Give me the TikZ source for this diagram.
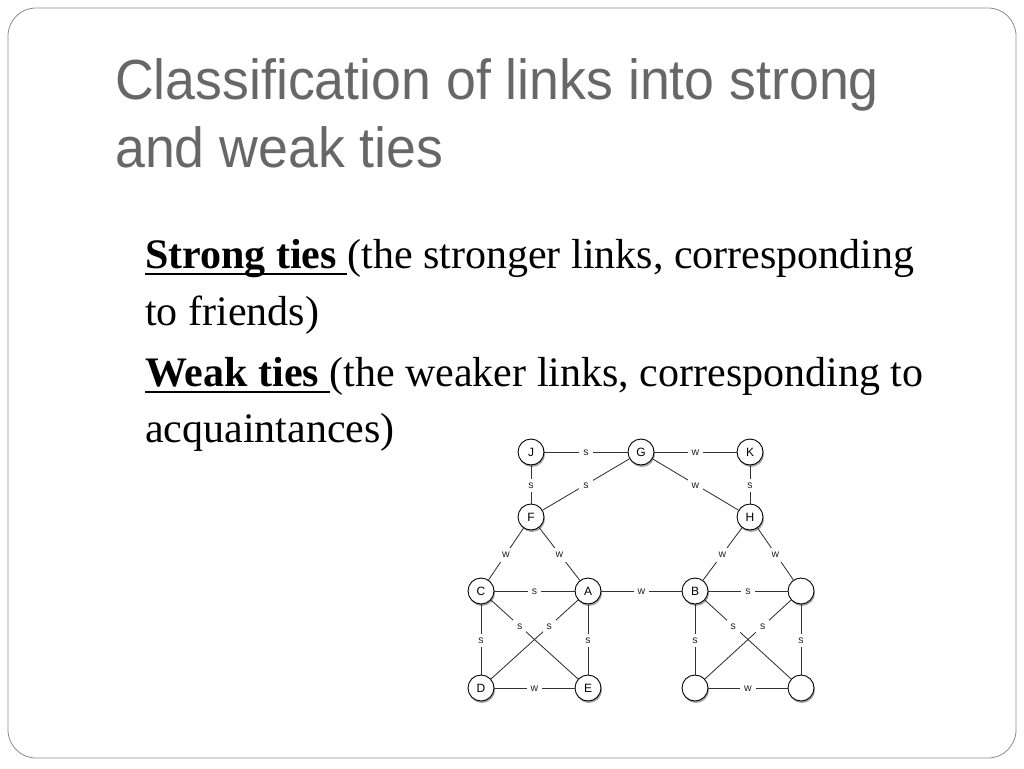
\documentclass[tikz,border=0pt]{standalone}
\usepackage{fontspec}
\setmainfont{Liberation Serif}
\newfontfamily\titlefont[FakeStretch=0.95]{Liberation Sans}
\newfontfamily\graphfont{Liberation Sans}
\usetikzlibrary{shadows}
\definecolor{titlegray}{HTML}{676767}
\definecolor{framegray}{HTML}{8A8A8A}
\newcommand\ulbox[1]{\setbox0\hbox{#1}\rlap{\rule[-6.5pt]{\wd0}{1.6pt}}\box0}
\tikzset{
  vtx/.style={circle, draw=black, line width=0.9pt, fill=white, minimum size=26pt, inner sep=0pt,
    font=\graphfont\fontsize{12}{12}\selectfont,
    drop shadow={shadow xshift=1pt, shadow yshift=-2pt, opacity=0.35, fill=black}},
  lnk/.style={draw=black!80, line width=0.85pt},
  lbl/.style={fill=white, inner sep=4pt, text height=5.5pt, text depth=0pt, yshift=-0.8pt,
    font=\graphfont\fontsize{10.5}{10.5}\selectfont, text=black!85},
  titletext/.style={anchor=base west, inner sep=0pt, text=titlegray, font=\titlefont\fontsize{56.5}{56.5}\selectfont},
  bodytext/.style={anchor=base west, inner sep=0pt, font=\fontsize{42}{42}\selectfont}
}
\begin{document}
\begin{tikzpicture}[x=1pt,y=-1pt]
\useasboundingbox (0,0) rectangle (1024,768);
\draw[framegray, line width=0.8pt, rounded corners=28pt] (8,8) rectangle (1016,758);
\node[titletext] (t1) at (115,99) {Classification of links into strong};
\node[titletext] (t2) at (115,167) {and weak ties};
\node[bodytext] (b1) at (145,268) {\ulbox{\textbf{Strong ties }}(the stronger links, corresponding};
\node[bodytext] (b2) at (145,325) {to friends)};
\node[bodytext] (b3) at (145,386) {\ulbox{\textbf{Weak ties }}(the weaker links, corresponding to};
\node[bodytext] (b4) at (145,442) {acquaintances)};
% vertices
\node[vtx] (J) at (531,452) {J};
\node[vtx] (G) at (641,452) {G};
\node[vtx] (K) at (750,452) {K};
\node[vtx] (F) at (531,517) {F};
\node[vtx] (H) at (750,517) {H};
\node[vtx] (C) at (481,591) {C};
\node[vtx] (A) at (588,591) {A};
\node[vtx] (B) at (695,591) {B};
\node[vtx] (R) at (801,591) {};
\node[vtx] (D) at (481,688) {D};
\node[vtx] (E) at (588,688) {E};
\node[vtx] (P) at (695,688) {};
\node[vtx] (Q) at (801,688) {};
% edges
\path[lnk] (J) -- node[lbl]{s} (G);
\path[lnk] (G) -- node[lbl]{w} (K);
\path[lnk] (J) -- node[lbl]{s} (F);
\path[lnk] (G) -- node[lbl]{s} (F);
\path[lnk] (G) -- node[lbl]{w} (H);
\path[lnk] (K) -- node[lbl]{s} (H);
\path[lnk] (F) -- node[lbl]{w} (C);
\path[lnk] (F) -- node[lbl]{w} (A);
\path[lnk] (H) -- node[lbl]{w} (B);
\path[lnk] (H) -- node[lbl]{w} (R);
\path[lnk] (C) -- node[lbl]{s} (A);
\path[lnk] (A) -- node[lbl]{w} (B);
\path[lnk] (B) -- node[lbl]{s} (R);
\path[lnk] (C) -- node[lbl]{s} (D);
\path[lnk] (A) -- node[lbl]{s} (E);
\path[lnk] (D) -- node[lbl]{w} (E);
\path[lnk] (C) -- node[lbl, pos=0.33]{s} (E);
\path[lnk] (A) -- node[lbl, pos=0.33]{s} (D);
\path[lnk] (B) -- node[lbl]{s} (P);
\path[lnk] (R) -- node[lbl]{s} (Q);
\path[lnk] (P) -- node[lbl]{w} (Q);
\path[lnk] (B) -- node[lbl, pos=0.33]{s} (Q);
\path[lnk] (R) -- node[lbl, pos=0.33]{s} (P);
\end{tikzpicture}
\end{document}
